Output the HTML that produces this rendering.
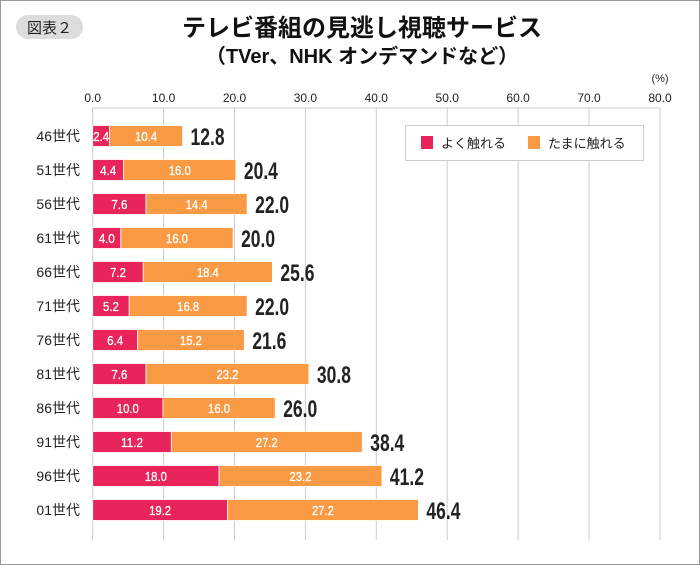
<!DOCTYPE html>
<html><head><meta charset="utf-8"><style>
body{margin:0;width:700px;height:565px;background:#fff;font-family:"Liberation Sans","Noto Sans CJK JP",sans-serif;overflow:hidden}
</style></head><body>
<svg width="700" height="565" xmlns="http://www.w3.org/2000/svg" font-family="Liberation Sans, Noto Sans CJK JP, sans-serif">
<rect x="0.5" y="0.5" width="699" height="564" fill="#fff" stroke="#999"/>
<rect x="16" y="15" width="67" height="24" rx="12" fill="#dcdcdc"/>
<text x="49.5" y="33" font-size="15" text-anchor="middle" fill="#222">図表２</text>
<text x="362" y="36" font-size="24" font-weight="bold" text-anchor="middle" fill="#111">テレビ番組の見逃し視聴サービス</text>
<text x="362" y="63" font-size="20" font-weight="bold" text-anchor="middle" fill="#111">（TVer、NHK オンデマンドなど）</text>
<text x="660" y="82" font-size="11" text-anchor="middle" fill="#222">(%)</text>
<g font-size="12" fill="#222" text-anchor="middle">
<text x="92.7" y="102">0.0</text><text x="163.6" y="102">10.0</text><text x="234.5" y="102">20.0</text><text x="305.4" y="102">30.0</text><text x="376.3" y="102">40.0</text><text x="447.2" y="102">50.0</text><text x="518.1" y="102">60.0</text><text x="589" y="102">70.0</text><text x="660" y="102">80.0</text>
</g>
<g stroke="#ccc" stroke-width="1">
<line x1="92.7" y1="108" x2="92.7" y2="540"/><line x1="163.6" y1="108" x2="163.6" y2="540"/><line x1="234.5" y1="108" x2="234.5" y2="540"/><line x1="305.4" y1="108" x2="305.4" y2="540"/><line x1="376.3" y1="108" x2="376.3" y2="540"/><line x1="447.2" y1="108" x2="447.2" y2="540"/><line x1="518.1" y1="108" x2="518.1" y2="540"/><line x1="589" y1="108" x2="589" y2="540"/><line x1="660" y1="108" x2="660" y2="540"/>
<line x1="92.7" y1="108" x2="660" y2="108"/>
</g>
<rect x="405.5" y="125.5" width="238" height="35" fill="#fff" stroke="#ccc"/>
<rect x="421" y="136" width="12" height="13" fill="#e8245a"/>
<text x="441" y="148" font-size="13" fill="#222">よく触れる</text>
<rect x="528" y="136" width="12" height="13" fill="#fb9a45"/>
<text x="548" y="148" font-size="13" fill="#222">たまに触れる</text>
<g id="bars"></g>
</svg>
<script>
const d=[["46",2.4,10.4,"12.8"],["51",4.4,16.0,"20.4"],["56",7.6,14.4,"22.0"],["61",4.0,16.0,"20.0"],["66",7.2,18.4,"25.6"],["71",5.2,16.8,"22.0"],["76",6.4,15.2,"21.6"],["81",7.6,23.2,"30.8"],["86",10.0,16.0,"26.0"],["91",11.2,27.2,"38.4"],["96",18.0,23.2,"41.2"],["01",19.2,27.2,"46.4"]];
const s=7.02,x0=92.7;let h="";
function lab(x,c,v,maxw){const t=v.toFixed(1);let L=t.length==4?22:16;L=Math.min(L,maxw);
return `<text x="${x}" y="${c+5}" font-size="13" text-anchor="middle" fill="#fff" stroke="#fff" stroke-width="0.3" textLength="${L}" lengthAdjust="spacingAndGlyphs">${t}</text>`;}
d.forEach((r,i)=>{const c=136+34*i,y=c-10.5,w1=r[1]*s,w2=r[2]*s;
h+=`<text x="80" y="${c+5}" font-size="14" text-anchor="end" fill="#222">${r[0]}世代</text>`;
h+=`<rect x="${x0}" y="${y}" width="${w1}" height="21" fill="#e8245a" stroke="#fff" stroke-width="0.8"/>`;
h+=`<rect x="${x0+w1}" y="${y}" width="${w2}" height="21" fill="#fb9a45" stroke="#fff" stroke-width="0.8"/>`;
h+=lab(x0+w1/2,c,r[1],w1-1);
h+=lab(x0+w1+w2/2,c,r[2],40);
h+=`<text x="${x0+w1+w2+8}" y="${c+9}" font-size="24" font-weight="bold" fill="#222" textLength="${r[3].length*8.5}" lengthAdjust="spacingAndGlyphs">${r[3]}</text>`;});
document.getElementById("bars").innerHTML=h;
</script>
</body></html>
